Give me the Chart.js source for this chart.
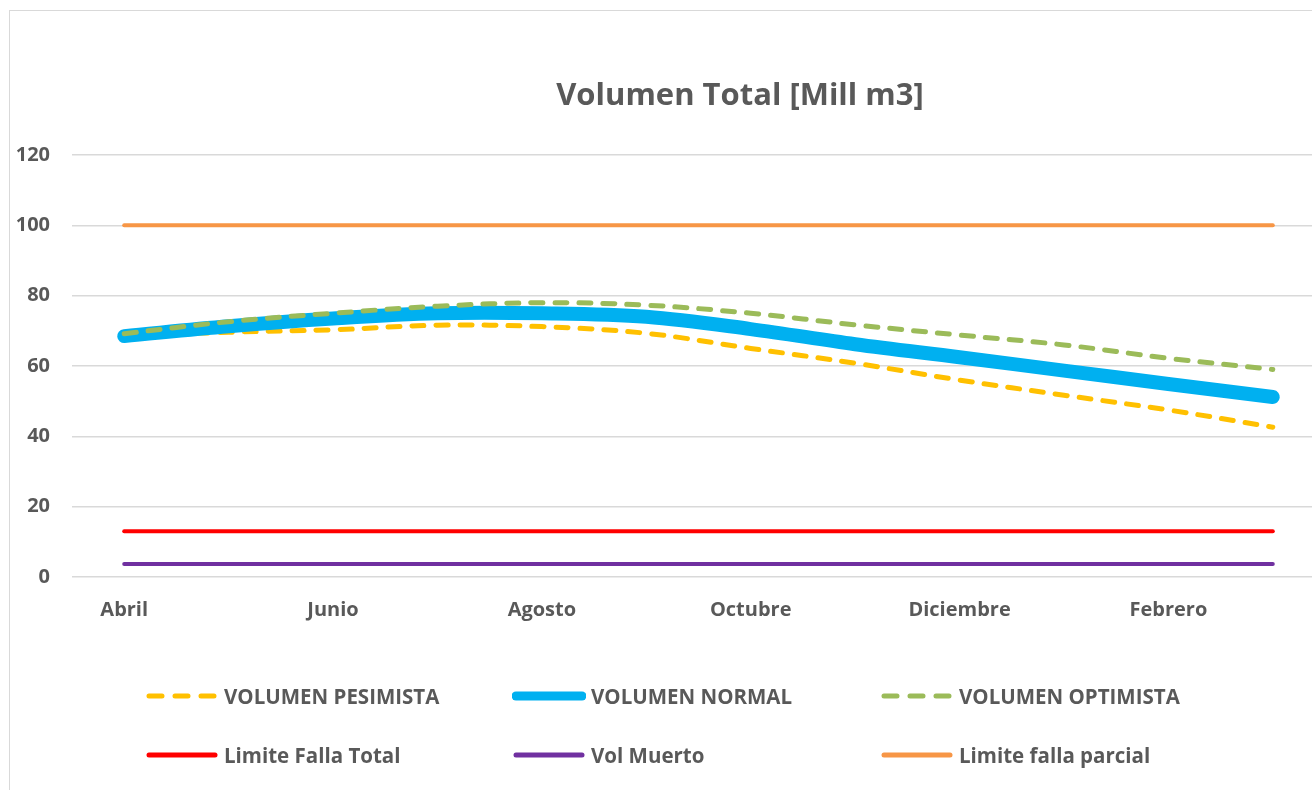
<!DOCTYPE html>
<html>
<head>
<meta charset="utf-8">
<script src="https://cdn.jsdelivr.net/npm/chart.js@4"></script>
<style>
  html, body { margin: 0; padding: 0; background: #fff; overflow: hidden; width: 1312px; height: 790px; }
  #frame { position: absolute; left: 9px; top: 10px; width: 1462px; height: 900px; border: 1px solid #d9d9d9; }
  #wrap { position: absolute; left: 0; top: 0; width: 1462px; height: 640px; }
  #title { position: absolute; left: 440px; width: 600px; top: 72px; text-align: center; line-height: 42px;
           font-family: "Open Sans", sans-serif; font-weight: bold; font-size: 31px; color: #595959; white-space: nowrap; }
  #legend { position: absolute; left: 0; top: 0; width: 1312px; height: 790px; pointer-events: none;
            font-family: "Open Sans", sans-serif; font-weight: bold; color: #595959; font-size: 20.5px; }
  .item { position: absolute; display: flex; align-items: center; white-space: nowrap; }
  .item svg { margin-right: 5px; }
</style>
</head>
<body>
<div id="frame"><div id="wrap"><canvas id="c"></canvas></div></div>
<div id="title">Volumen Total [Mill m3]</div>
<div id="legend"></div>
<script>
const categories = ["Abril","Mayo","Junio","Julio","Agosto","Septiembre","Octubre","Noviembre","Diciembre","Enero","Febrero","Marzo"];
const yTicks = [0, 20, 40, 60, 80, 100, 120];
const volPesimista = [68.5, 69.6, 70.3, 71.6, 71.2, 69.3, 65.0, 60.8, 56.0, 51.7, 47.5, 42.6];
const volNormal    = [68.5, 71.3, 73.5, 75.0, 75.0, 74.0, 70.5, 66.2, 62.5, 58.7, 54.9, 51.2];
const volOptimista = [69.2, 72.6, 75.0, 77.0, 78.0, 77.3, 75.0, 71.7, 68.8, 66.0, 62.2, 59.0];
const limiteFallaTotal   = [13, 13, 13, 13, 13, 13, 13, 13, 13, 13, 13, 13];
const volMuerto          = [3.7, 3.7, 3.7, 3.7, 3.7, 3.7, 3.7, 3.7, 3.7, 3.7, 3.7, 3.7];
const limiteFallaParcial = [100, 100, 100, 100, 100, 100, 100, 100, 100, 100, 100, 100];

const FONT = '"Open Sans", sans-serif';
const TXT = '#595959';

const datasets = [
  { label: 'VOLUMEN PESIMISTA', data: volPesimista, borderColor: '#FFC000', borderWidth: 5, borderDash: [12, 12], tension: 0.35, order: 3, legend: {dash: true, w: 5} },
  { label: 'VOLUMEN NORMAL', data: volNormal, borderColor: '#00B0F0', borderWidth: 14, tension: 0.35, order: 2, legend: {dash: false, w: 9} },
  { label: 'VOLUMEN OPTIMISTA', data: volOptimista, borderColor: '#9BBB59', borderWidth: 5, borderDash: [12, 12], tension: 0.35, order: 1, legend: {dash: true, w: 5} },
  { label: 'Limite Falla Total', data: limiteFallaTotal, borderColor: '#FF0000', borderWidth: 4, order: 4, legend: {dash: false, w: 5} },
  { label: 'Vol Muerto', data: volMuerto, borderColor: '#7030A0', borderWidth: 4, order: 5, legend: {dash: false, w: 5} },
  { label: 'Limite falla parcial', data: limiteFallaParcial, borderColor: '#F79646', borderWidth: 4, order: 6, legend: {dash: false, w: 5} }
].map(d => Object.assign({ pointRadius: 0, pointHoverRadius: 0, fill: false, borderCapStyle: 'round', borderJoinStyle: 'round' }, d));

new Chart(document.getElementById('c'), {
  type: 'line',
  data: { labels: categories, datasets },
  options: {
    responsive: true,
    maintainAspectRatio: false,
    animation: false,
    layout: { padding: { left: 0, right: 147, top: 144, bottom: 0 } },
    plugins: {
      legend: { display: false },
      tooltip: { enabled: false },
      title: { display: false }
    },
    scales: {
      x: {
        offset: true,
        grid: { display: false, drawTicks: false },
        border: { display: false },
        ticks: {
          autoSkip: false, maxRotation: 0, padding: 21, color: TXT,
          font: { family: FONT, size: 20, weight: 'bold' },
          callback: function(v, i) { return i % 2 === 0 ? categories[i] : ''; }
        },
        afterFit: s => { s.height = 74; }
      },
      y: {
        min: 0, max: 120,
        afterBuildTicks: s => { s.ticks = yTicks.map(v => ({ value: v })); },
        grid: { color: '#d9d9d9', lineWidth: 1.5, drawTicks: false },
        border: { display: false },
        ticks: { padding: 22, color: TXT, font: { family: FONT, size: 20, weight: 'bold' } },
        afterFit: s => { s.width = 62; }
      }
    }
  }
});

// HTML legend built from the datasets
const pos = [[145, 696], [512, 696], [880, 696], [145, 755], [512, 755], [880, 755]];
const leg = document.getElementById('legend');
datasets.forEach((d, i) => {
  const el = document.createElement('div');
  el.className = 'item';
  el.style.left = pos[i][0] + 'px';
  el.style.top = (pos[i][1] - 14) + 'px';
  el.style.height = '28px';
  const L = d.legend;
  const dash = L.dash ? 'stroke-dasharray="13 13"' : '';
  el.innerHTML = '<svg width="74" height="14"><line x1="4" y1="7" x2="70" y2="7" stroke="' + d.borderColor +
    '" stroke-width="' + L.w + '" stroke-linecap="round" ' + dash + '/></svg><span>' + d.label + '</span>';
  leg.appendChild(el);
});
</script>
</body>
</html>
